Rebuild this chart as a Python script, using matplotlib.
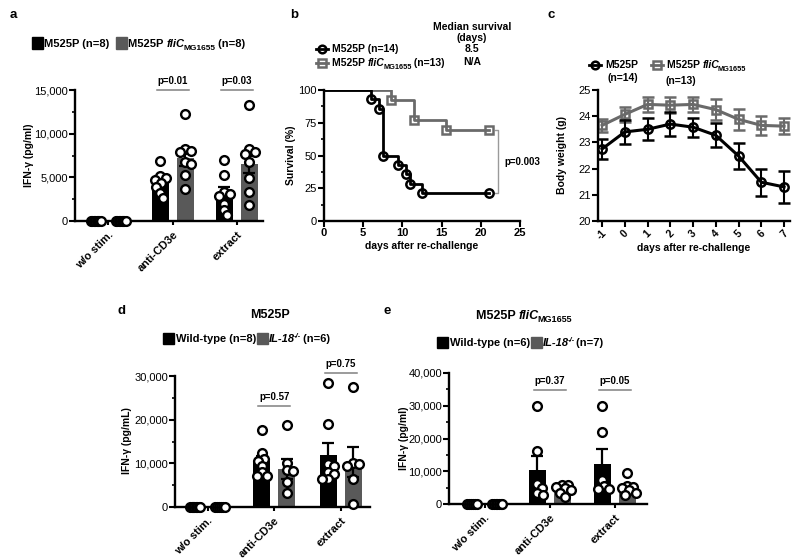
import numpy as np
import matplotlib
matplotlib.use('Agg')
import matplotlib.pyplot as plt
from matplotlib.patches import Rectangle
from matplotlib.lines import Line2D
from matplotlib.ticker import FuncFormatter, MultipleLocator

plt.rcParams['font.family'] = ['Liberation Sans', 'DejaVu Sans']

# ---------------- data ----------------
groups = ['w/o stim.', 'anti-CD3e', 'extract']

# panel a (IFN-g pg/ml)
a_black_pts = [[0]*8, [6900, 5100, 4900, 4700, 4400, 3900, 3200, 2600],
               [7000, 5300, 3300, 3100, 2900, 2000, 1300, 700]]
a_black_mean = [0, 4800, 3300]
a_black_sem = [0, 400, 600]
a_gray_pts = [[0]*8, [12300, 8200, 8000, 7900, 6800, 6500, 5300, 3700],
              [13300, 8200, 7900, 7700, 6800, 4900, 3300, 1800]]
a_gray_mean = [0, 7200, 6500]
a_gray_sem = [0, 850, 1000]
a_p = ['', 'p=0.01', 'p=0.03']

# panel b survival
b_t1 = [0, 6, 7, 7.5, 9.5, 10.5, 11, 12.5, 21]
b_s1 = [100, 92.9, 85.7, 50, 42.9, 35.7, 28.6, 21.4, 21.4]
b_t2 = [0, 8.5, 11.5, 15.5, 21]
b_s2 = [100, 92.3, 76.9, 69.2, 69.2]

# panel c body weight
c_days = [-1, 0, 1, 2, 3, 4, 5, 6, 7]
c_m1 = [22.75, 23.4, 23.5, 23.7, 23.58, 23.27, 22.48, 21.48, 21.3]
c_e1 = [0.38, 0.45, 0.42, 0.45, 0.37, 0.46, 0.49, 0.52, 0.6]
c_m2 = [23.65, 24.07, 24.45, 24.42, 24.45, 24.25, 23.88, 23.65, 23.62]
c_e2 = [0.25, 0.28, 0.3, 0.3, 0.3, 0.4, 0.39, 0.36, 0.3]

# panel d
d_black_pts = [[0]*8, [17700, 12300, 11000, 10500, 9500, 8000, 7200, 7000],
               [28300, 18900, 9800, 9400, 8000, 7600, 6500, 6300]]
d_black_mean = [0, 10500, 11800]
d_black_sem = [0, 1200, 2800]
d_gray_pts = [[0]*6, [18800, 10000, 8500, 8200, 5800, 3200],
              [27400, 10000, 9900, 9500, 6400, 800]]
d_gray_mean = [0, 8700, 10300]
d_gray_sem = [0, 2200, 3500]
d_p = ['', 'p=0.57', 'p=0.75']

# panel e
e_black_pts = [[0]*6, [30000, 16200, 6000, 4800, 3500, 2800],
               [30000, 22000, 7300, 5500, 4700, 4500]]
e_black_mean = [0, 10400, 12200]
e_black_sem = [0, 4300, 4500]
e_gray_pts = [[0]*7, [5900, 5700, 5200, 4800, 4400, 3500, 2200],
              [9500, 5600, 5200, 4800, 4200, 3500, 2800]]
e_gray_mean = [0, 4400, 4600]
e_gray_sem = [0, 500, 800]
e_p = ['', 'p=0.37', 'p=0.05']

# ---------------- figure ----------------
W, H = 800, 558
fig = plt.figure(figsize=(8, 5.58), dpi=100)
renderer = fig.canvas.get_renderer()
BLACK = '#000000'
GRAY = '#595959'
LGRAY = '#6a6a6a'


def ax_at(l, t, r, b):
    return fig.add_axes([l / W, 1 - b / H, (r - l) / W, (b - t) / H])


def fx(x):
    return x / W


def fy(y):
    return 1 - y / H


def style_axes(ax):
    for s in ['top', 'right']:
        ax.spines[s].set_visible(False)
    for s in ['left', 'bottom']:
        ax.spines[s].set_linewidth(1.7)
    ax.tick_params(which='major', width=1.5, length=4, labelsize=8, pad=1)
    ax.tick_params(which='minor', width=1.2, length=2.5)


def rich(x, y, segs):
    """x: left px, y: baseline px."""
    cx = x
    for seg in segs:
        kind = seg[0]
        if kind == 'sq':
            color, size = seg[1], seg[2]
            fig.add_artist(Rectangle((fx(cx), fy(y - 4 + size / 2)), size / W, size / H,
                                     transform=fig.transFigure, color=color))
            cx += size + 1.5
        elif kind == 'gap':
            cx += seg[1]
        elif kind == 'mk':
            ln = Line2D([fx(cx), fx(cx + 12)], [fy(y - 3.5)] * 2, transform=fig.transFigure,
                        color=seg[1], lw=2)
            mk = Line2D([fx(cx + 6)], [fy(y - 3.5)], transform=fig.transFigure,
                        marker=seg[2], ms=5.5, mfc='none', mec=seg[1], mew=1.8, lw=0)
            fig.add_artist(ln)
            fig.add_artist(mk)
            cx += 16
        else:
            s, kw, dy = seg
            t = fig.text(fx(cx), fy(y + dy), s, va='baseline', ha='left', **kw)
            cx += t.get_window_extent(renderer).width
            if kw.get('style') == 'italic':
                cx -= 1.5
    return cx


B8 = dict(fontsize=8, fontweight='bold')
B75 = dict(fontsize=7.5, fontweight='bold')
BI8 = dict(fontsize=8, fontweight='bold', style='italic')
BI75 = dict(fontsize=7.5, fontweight='bold', style='italic')
SUB = dict(fontsize=6, fontweight='bold')
SUB55 = dict(fontsize=5.3, fontweight='bold')


def swarm(vals, xpu, ypu, diam=6.0, spread=5.0, maxoff=9.0):
    vals = np.asarray(vals, float)
    n = len(vals)
    if np.ptp(vals) == 0:
        return np.linspace(-spread, spread, n) / xpu
    order = np.argsort(-vals, kind='stable')
    placed = []
    offs = np.zeros(n)
    cands = [0.0]
    k = 1
    while k * 0.5 <= maxoff:
        cands.extend([k * 0.5, -k * 0.5])
        k += 1
    for i in order:
        y = vals[i] * ypu
        best, bestd = 0.0, -1
        chosen = None
        for c in cands:
            d = min([np.hypot(c - px, y - py) for px, py in placed] or [1e9])
            if d >= diam:
                chosen = c
                break
            if d > bestd:
                best, bestd = c, d
        if chosen is None:
            chosen = best
        placed.append((chosen, y))
        offs[i] = chosen / xpu
    return offs


def bar_panel(rect, ymax, major, minor, bpts, bmean, bsem, gpts, gmean, gsem,
              pvals, pline_y, xlim):
    l, t, r, b = rect
    ax = ax_at(l, t, r, b)
    style_axes(ax)
    ax.set_xlim(*xlim)
    ax.set_ylim(0, ymax)
    xpu = (r - l) / (xlim[1] - xlim[0])
    ypu = (b - t) / ymax
    x = np.arange(len(groups))
    off, bw = 12.5 / xpu, 17 / xpu
    ax.bar(x - off, bmean, bw, color=BLACK, zorder=2)
    ax.bar(x + off, gmean, bw, color=GRAY, zorder=2)
    for i in range(len(groups)):
        for xc, m, s in [(x[i] - off, bmean[i], bsem[i]), (x[i] + off, gmean[i], gsem[i])]:
            if s > 0:
                ax.errorbar([xc], [m], yerr=[s], fmt='none', ecolor=BLACK, elinewidth=1.6,
                            capsize=4, capthick=1.6, zorder=3)
        for xc, pts in [(x[i] - off, bpts[i]), (x[i] + off, gpts[i])]:
            o = swarm(pts, xpu, ypu)
            ax.plot(xc + o, pts, 'o', ms=6.3, mfc='white', mec=BLACK, mew=1.7,
                    zorder=4, clip_on=False)
        if pvals[i]:
            py = pline_y[i]
            ax.plot([x[i] - 16 / xpu, x[i] + 16 / xpu], [py, py], color='#808080', lw=1.1,
                    clip_on=False)
            ax.annotate(pvals[i], (x[i], py), xytext=(0, 3), textcoords='offset points',
                        ha='center', va='bottom', fontsize=7, fontweight='bold',
                        annotation_clip=False)
    ax.yaxis.set_major_locator(MultipleLocator(major))
    ax.yaxis.set_minor_locator(MultipleLocator(minor))
    ax.yaxis.set_major_formatter(FuncFormatter(lambda v, _: f'{int(v):,}'))
    ax.set_xticks(x)
    ax.set_xticklabels(groups, rotation=45, ha='right', va='top', rotation_mode='anchor',
                       fontweight='bold', fontsize=8)
    ax.tick_params(axis='x', length=3, pad=3)
    return ax


# ---------------- panel a ----------------
bar_panel((75, 90, 263, 221), 15000, 5000, 2500, a_black_pts, a_black_mean, a_black_sem,
          a_gray_pts, a_gray_mean, a_gray_sem, a_p, [0, 15000, 15000], (-0.52, 2.41))
fig.text(fx(10), fy(15), 'a', fontsize=9.5, fontweight='bold', va='center')
fig.text(fx(29), fy(155), 'IFN-γ (pg/ml)', rotation=90, ha='center', va='center', **B75)
rich(32, 47, [('sq', BLACK, 11), ('M525P (n=8)', B8, 0), ('gap', 6), ('sq', GRAY, 11),
              ('M525P ', B8, 0), ('fliC', BI8, 0), ('MG1655', SUB, 3), (' (n=8)', B8, 0)])

# ---------------- panel b ----------------
axb = ax_at(324, 90, 520, 221)
style_axes(axb)
axb.set_xlim(0, 25)
axb.set_ylim(0, 100)
axb.step(b_t2, b_s2, where='post', color=LGRAY, lw=2, zorder=2)
axb.plot(b_t2[1:], b_s2[1:], 's', ms=6, mfc='none', mec=LGRAY, mew=1.8, zorder=3)
axb.step(b_t1, b_s1, where='post', color=BLACK, lw=2, zorder=2)
axb.plot(b_t1[1:], b_s1[1:], 'o', ms=6, mfc='none', mec=BLACK, mew=1.8, zorder=3)
axb.xaxis.set_major_locator(MultipleLocator(5))
axb.yaxis.set_major_locator(MultipleLocator(25))
axb.yaxis.set_minor_locator(MultipleLocator(12.5))
for lab in axb.get_xticklabels():
    lab.set_fontweight('bold')
bx = 22.2
axb.plot([bx - 0.4, bx, bx, bx - 0.4], [b_s2[-1], b_s2[-1], b_s1[-1], b_s1[-1]],
         color='#9a9a9a', lw=1, clip_on=False)
axb.text(bx + 0.8, (b_s1[-1] + b_s2[-1]) / 2, 'p=0.003', fontsize=7, fontweight='bold',
         va='center', ha='left', clip_on=False)
fig.text(fx(290), fy(15), 'b', fontsize=9.5, fontweight='bold', va='center')
fig.text(fx(291), fy(155), 'Survival (%)', rotation=90, ha='center', va='center', **B75)
fig.text(fx(422), fy(246), 'days after re-challenge', ha='center', va='center', **B75)
rich(316, 52, [('mk', BLACK, 'o'), ('M525P (n=14)', B75, 0)])
rich(316, 66, [('mk', LGRAY, 's'), ('M525P ', B75, 0), ('fliC', BI75, 0), ('MG1655', SUB55, 3),
               (' (n=13)', B75, 0)])
for txt, yy in [('Median survival', 27), ('(days)', 38), ('8.5', 49), ('N/A', 62)]:
    fig.text(fx(472), fy(yy), txt, ha='center', va='center', **B75)

# ---------------- panel c ----------------
axc = ax_at(598, 90, 790, 221)
style_axes(axc)
axc.set_xlim(-1.18, 7.26)
axc.set_ylim(20, 25)
axc.errorbar(c_days, c_m2, yerr=c_e2, color=LGRAY, lw=2.2, marker='s', ms=6, mfc='none',
             mec=LGRAY, mew=1.8, elinewidth=1.5, capsize=4, capthick=1.5, zorder=2)
axc.errorbar(c_days, c_m1, yerr=c_e1, color=BLACK, lw=2.2, marker='o', ms=6, mfc='none',
             mec=BLACK, mew=1.8, elinewidth=1.5, capsize=4, capthick=1.5, zorder=3)
axc.set_xticks(c_days)
axc.set_xticklabels([str(d) for d in c_days], rotation=45, ha='center', va='top',
                    fontweight='bold', fontsize=7.5)
axc.tick_params(axis='x', pad=1)
axc.yaxis.set_major_locator(MultipleLocator(1))
fig.text(fx(547), fy(15), 'c', fontsize=9.5, fontweight='bold', va='center')
fig.text(fx(562), fy(155), 'Body weight (g)', rotation=90, ha='center', va='center', **B75)
fig.text(fx(694), fy(248), 'days after re-challenge', ha='center', va='center', **B75)
rich(589, 68, [('mk', BLACK, 'o'), ('M525P', B75, 0)])
fig.text(fx(607), fy(78), '(n=14)', ha='left', va='center', **B75)
rich(651, 68, [('mk', LGRAY, 's'), ('M525P ', B75, 0), ('fliC', BI75, 0), ('MG1655', SUB55, 3)])
fig.text(fx(665), fy(81), '(n=13)', ha='left', va='center', **B75)

# ---------------- panel d ----------------
bar_panel((175, 376, 370, 507), 30000, 10000, 5000, d_black_pts, d_black_mean, d_black_sem,
          d_gray_pts, d_gray_mean, d_gray_sem, d_p, [0, 23100, 30700], (-0.49, 2.44))
fig.text(fx(118), fy(311), 'd', fontsize=9.5, fontweight='bold', va='center')
fig.text(fx(270), fy(315), 'M525P', ha='center', va='center', fontsize=9, fontweight='bold')
fig.text(fx(127), fy(441), 'IFN-γ (pg/mL)', rotation=90, ha='center', va='center', **B75)
rich(163, 342, [('sq', BLACK, 11), ('Wild-type (n=8)', B8, 0), ('gap', 1), ('sq', GRAY, 11),
                ('IL-18', BI8, 0), ('-/-', dict(fontsize=5.5, fontweight='bold', style='italic'), -4),
                (' (n=6)', B8, 0)])

# ---------------- panel e ----------------
bar_panel((449, 373, 647, 504), 40000, 10000, 5000, e_black_pts, e_black_mean, e_black_sem,
          e_gray_pts, e_gray_mean, e_gray_sem, e_p, [0, 34800, 34800], (-0.55, 2.5))
fig.text(fx(383), fy(311), 'e', fontsize=9.5, fontweight='bold', va='center')
rich(476, 319, [('M525P ', dict(fontsize=9, fontweight='bold'), 0),
                ('fliC', dict(fontsize=9, fontweight='bold', style='italic'), 0),
                ('MG1655', dict(fontsize=6.5, fontweight='bold'), 3)])
fig.text(fx(404), fy(438), 'IFN-γ (pg/ml)', rotation=90, ha='center', va='center', **B75)
rich(437, 346, [('sq', BLACK, 11), ('Wild-type (n=6)', B8, 0), ('gap', 1), ('sq', GRAY, 11),
                ('IL-18', BI8, 0), ('-/-', dict(fontsize=5.5, fontweight='bold', style='italic'), -4),
                (' (n=7)', B8, 0)])

fig.savefig('out.png', dpi=100)
